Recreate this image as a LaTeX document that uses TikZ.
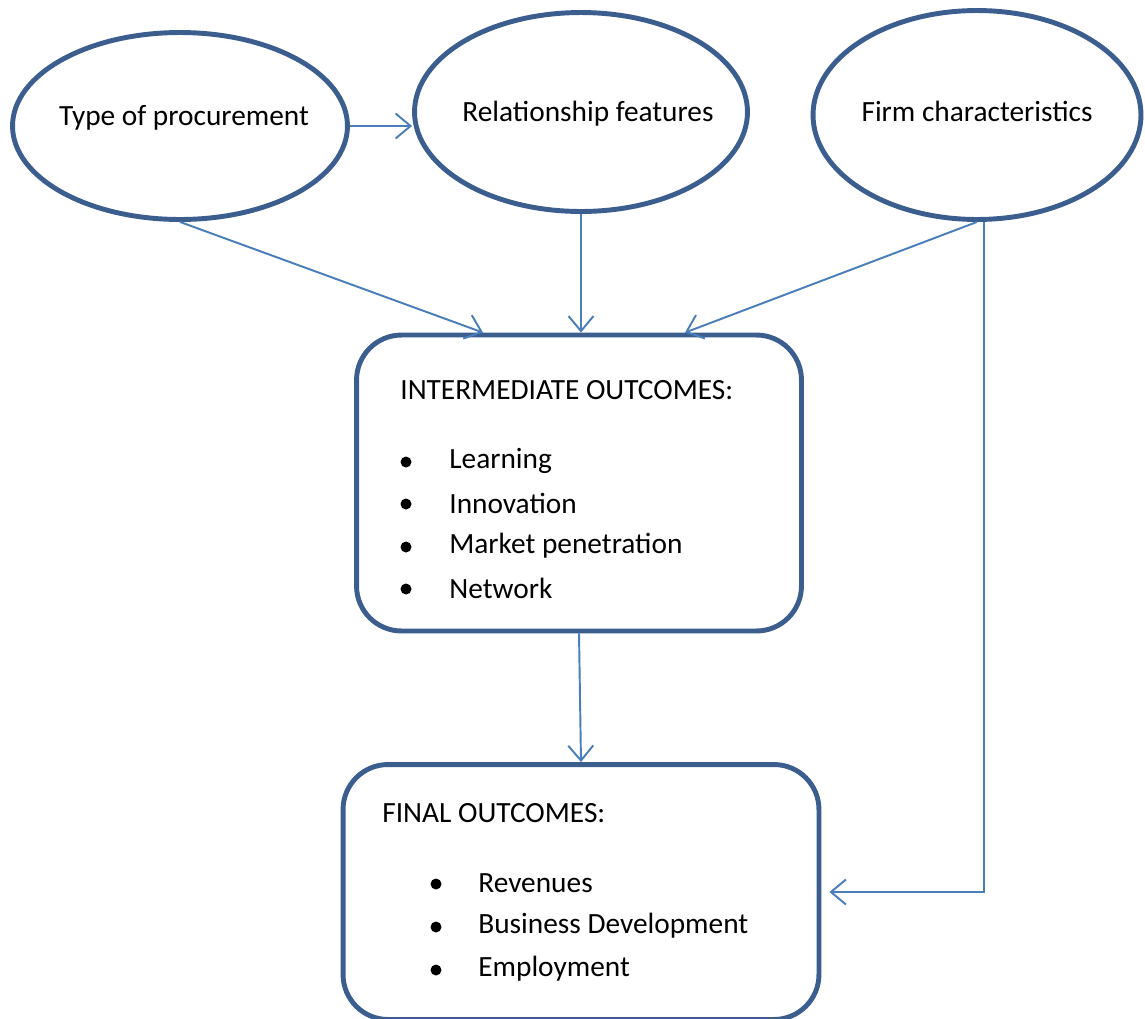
\documentclass[tikz,border=0pt]{standalone}
\usepackage{fontspec}
\setmainfont{Carlito}
\usetikzlibrary{shapes.geometric}
\usetikzlibrary{calc}
\usetikzlibrary{arrows.meta}
\definecolor{shapeblue}{RGB}{59,94,143}
\definecolor{linkblue}{RGB}{74,126,187}
\tikzset{
	bubble/.style={ellipse, draw=shapeblue, line width=2.8pt, inner sep=0pt},
	panel/.style={rectangle, rounded corners=0.9cm, draw=shapeblue, line width=2.8pt},
	link/.style={draw=linkblue, line width=1.1pt, -{Straight Barb[length=0.3cm,width=0.5cm]}},
	dot/.style={circle, fill=black, inner sep=0pt, minimum size=0.22cm},
	entry/.style={anchor=west, inner sep=0pt}
}
\begin{document}
\begin{tikzpicture}[x=0.02cm, y=-0.02cm, font=\fontsize{16.7}{20}\selectfont]
			\clip (0,0) rectangle (1145,1018);
			\useasboundingbox (0,0) rectangle (1145,1018);

			% the three drivers
			\node [bubble, minimum width=6.7cm, minimum height=3.74cm,
				label={[yshift=0.16cm, xshift=0.08cm]center:Type of procurement}] (proc) at (180,126) {};
			\node [bubble, minimum width=6.66cm, minimum height=3.98cm,
				label={[yshift=-0.04cm, xshift=0.14cm]center:Relationship features}] (rel) at (581,112) {};
			\node [bubble, minimum width=6.56cm, minimum height=4.18cm,
				label={[yshift=0.08cm]center:Firm characteristics}] (firm) at (977,115) {};

			% outcome panels
			\node [panel, minimum width=8.9cm, minimum height=5.92cm] (inter) at (579,483) {};
			\node [panel, minimum width=9.52cm, minimum height=5.1cm] (final) at (581,892) {};

			\node [entry] (intertitle) at (400,390) {INTERMEDIATE OUTCOMES:};
			\node [dot] (d1) at (406,462) {};
			\node [dot] (d2) at (406,504) {};
			\node [dot] (d3) at (406,547) {};
			\node [dot] (d4) at (406,589) {};
			\node [entry] (learn) at (449,461) {Learning};
			\node [entry] (innov) at (449,503) {Innovation};
			\node [entry] (market) at (449,546) {Market penetration};
			\node [entry] (network) at (449,588) {Network};

			\node [entry] (finaltitle) at (382,813) {FINAL OUTCOMES:};
			\node [dot] (e1) at (436,884) {};
			\node [dot] (e2) at (436,927) {};
			\node [dot] (e3) at (436,970) {};
			\node [entry] (revenue) at (478,883) {Revenues};
			\node [entry] (business) at (478,926) {Business Development};
			\node [entry] (employ) at (478,969) {Employment};

			% connectors
			\draw [link] (proc.east) -- (proc.east -| rel.west);
			\draw [link] (proc.south) -- ($(inter.north)+(-96,0)$);
			\draw [link] (rel.south) -- (rel.south |- inter.north);
			\draw [link] (firm.south) -- ($(inter.north)+(106,0)$);
			\draw [link] (inter.south) -- (final.north);
			\draw [link] ([xshift=0.14cm]firm.south) |- ([xshift=0.16cm]final.east);
		\end{tikzpicture}
\end{document}
